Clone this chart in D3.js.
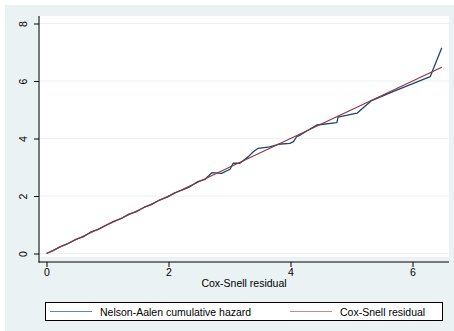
<!DOCTYPE html>
<html>
<head>
<meta charset="utf-8">
<script src="https://cdn.jsdelivr.net/npm/d3@7"></script>
<style>
  body { margin: 0; background: #fff; }
  svg { display: block; font-family: "Liberation Sans", Arial, sans-serif; }
</style>
</head>
<body>
<svg id="chart" width="454" height="331"></svg>
<script>
// Nelson-Aalen cumulative hazard vs Cox-Snell residual
var naX = [0.00, 0.10, 0.22, 0.35, 0.48, 0.60, 0.72, 0.85, 0.98, 1.10, 1.22, 1.35, 1.48, 1.60, 1.72, 1.85, 1.98, 2.10, 2.22, 2.35, 2.48, 2.60, 2.71, 2.87, 3.01, 3.06, 3.17, 3.31, 3.39, 3.47, 3.66, 3.80, 3.99, 4.05, 4.10, 4.16, 4.43, 4.76, 4.78, 5.09, 5.33, 5.70, 6.29, 6.48];
var naY = [0.00, 0.09, 0.23, 0.34, 0.49, 0.58, 0.74, 0.84, 0.99, 1.12, 1.21, 1.37, 1.46, 1.61, 1.70, 1.86, 1.96, 2.11, 2.20, 2.32, 2.50, 2.58, 2.81, 2.79, 2.93, 3.14, 3.14, 3.37, 3.54, 3.66, 3.71, 3.80, 3.83, 3.89, 4.06, 4.12, 4.47, 4.55, 4.74, 4.88, 5.32, 5.65, 6.15, 7.16];
var csX = [0.00, 6.48];
var csY = [0.00, 6.48];
var xTicks = [0, 2, 4, 6];
var yTicks = [0, 2, 4, 6, 8];
var seriesNames = ["Nelson-Aalen cumulative hazard", "Cox-Snell residual"];
var seriesColors = ["#1a476f", "#90353b"];
var legendColors = ["#5f88ab", "#c98a8f"];

var svg = d3.select("#chart");

// outer background
svg.append("rect").attr("x", 5).attr("y", 5).attr("width", 449).attr("height", 326).attr("fill", "#eaf2f3");
// plot region
svg.append("rect").attr("x", 40).attr("y", 16).attr("width", 409).attr("height", 241).attr("fill", "#fff");

var x = d3.scaleLinear().domain([0, 6]).range([46.5, 412.5]);
var y = d3.scaleLinear().domain([0, 8]).range([253.5, 23.5]);

// gridlines
svg.append("g").selectAll("line").data(yTicks).join("line")
  .attr("x1", 40).attr("x2", 449)
  .attr("y1", function(d){ return y(d); }).attr("y2", function(d){ return y(d); })
  .attr("stroke", "#eaf2f3").attr("stroke-width", 1.2);

// axes
var yAxis = svg.append("g").attr("transform", "translate(39,0)")
  .call(d3.axisLeft(y).tickValues(yTicks).tickFormat(d3.format("d")).tickSize(5).tickSizeOuter(0));
yAxis.select(".domain").remove();
yAxis.selectAll("text").attr("transform", "rotate(-90)").attr("x", 0).attr("y", -12)
  .attr("dy", "0").style("text-anchor", "middle").attr("font-size", 10.5)
  .attr("fill", "#000").attr("font-family", "Liberation Sans, Arial, sans-serif");
yAxis.selectAll("line").attr("stroke", "#000");

var xAxis = svg.append("g").attr("transform", "translate(0,262)")
  .call(d3.axisBottom(x).tickValues(xTicks).tickFormat(d3.format("d")).tickSize(5).tickSizeOuter(0));
xAxis.select(".domain").remove();
xAxis.selectAll("text").attr("y", 7).attr("font-size", 10.5).attr("fill", "#000")
  .attr("font-family", "Liberation Sans, Arial, sans-serif");
xAxis.selectAll("line").attr("stroke", "#000");

svg.append("line").attr("x1", 39).attr("x2", 39).attr("y1", 16).attr("y2", 262.5).attr("stroke", "#000").attr("stroke-width", 1);
svg.append("line").attr("x1", 38.5).attr("x2", 449).attr("y1", 262).attr("y2", 262).attr("stroke", "#000").attr("stroke-width", 1);

// axis title
svg.append("text").attr("x", 244).attr("y", 287).attr("text-anchor", "middle")
  .attr("font-size", 10.5).text("Cox-Snell residual");

// lines
var line = d3.line().x(function(d){ return x(d[0]); }).y(function(d){ return y(d[1]); });
var naData = naX.map(function(v, i){ return [v, naY[i]]; });
var csData = csX.map(function(v, i){ return [v, csY[i]]; });

svg.append("path").datum(naData).attr("d", line).attr("fill", "none")
  .attr("stroke", seriesColors[0]).attr("stroke-width", 1.3).attr("stroke-linejoin", "round");
svg.append("path").datum(csData).attr("d", line).attr("fill", "none")
  .attr("stroke", seriesColors[1]).attr("stroke-width", 1.1);

// legend
var legend = svg.append("g");
legend.append("rect").attr("x", 45.5).attr("y", 302.5).attr("width", 397).attr("height", 18)
  .attr("fill", "#fff").attr("stroke", "#000").attr("stroke-width", 1);
var legX = [50, 290];
seriesNames.forEach(function(name, i){
  legend.append("line").attr("x1", legX[i]).attr("x2", legX[i] + 42).attr("y1", 311.5).attr("y2", 311.5)
    .attr("stroke", legendColors[i]).attr("stroke-width", 1.2);
  legend.append("text").attr("x", legX[i] + 50).attr("y", 315.5).attr("font-size", 10.5).text(name);
});
</script>
</body>
</html>
